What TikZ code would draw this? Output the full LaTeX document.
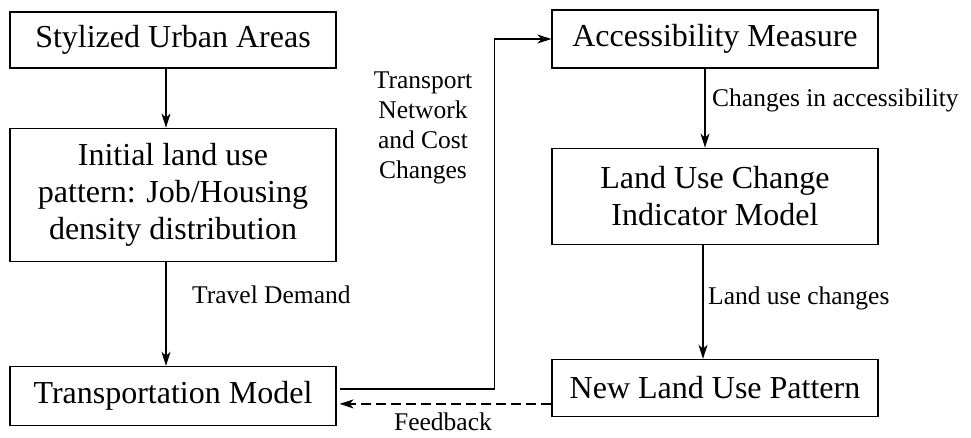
\documentclass[tikz,border=0pt]{standalone}
\usepackage{fontspec}
\newfontfamily\timesfont{Liberation Serif}
\usetikzlibrary{arrows.meta,positioning}
\tikzset{
    every node/.style = {font=\timesfont\fontsize{32}{37}\selectfont},
    block/.style = {draw, line width=1.2pt, minimum width=326pt, align=center, inner sep=0pt},
    lbl/.style = {font=\timesfont\fontsize{25.5}{30}\selectfont, inner sep=0pt},
    flow/.style = {line width=1.5pt, -{Stealth[length=14pt,width=9pt,inset=4pt]}},
    back/.style = {flow, dash pattern=on 10pt off 5pt}
}
\begin{document}
\begin{tikzpicture}[x=1pt, y=-1pt]
        \useasboundingbox (0,0) rectangle (971,437);

        \node[block, minimum height=56pt] (urban) at (173,40) {Stylized Urban Areas};
        \node[block, minimum height=133pt, below=59pt of urban] (init) {Initial land use\\pattern: Job/Housing\\density distribution};
        \node[block, minimum height=59pt, below=104pt of init] (trans) {Transportation Model};

        \node[block, minimum height=58pt] (access) at (715,39) {Accessibility Measure};
        \node[block, minimum height=96pt, below=79pt of access] (change) {Land Use Change\\Indicator Model};
        \node[block, minimum height=57pt, below=114pt of change] (newuse) {New Land Use Pattern};

        \draw[flow] ([xshift=-7pt]urban.south) -- ([xshift=-7pt]init.north);
        \draw[flow] ([xshift=-7pt]init.south) -- ([xshift=-7pt]trans.north);
        \draw[flow] ([xshift=-10pt]access.south) -- ([xshift=-10pt]change.north);
        \draw[flow] ([xshift=-12pt]change.south) -- ([xshift=-12pt]newuse.north);
        \draw[flow] ([xshift=3pt, yshift=7pt]trans.east) -- ++(155,0) |- (access.west);
        \draw[back] ([yshift=-16pt]newuse.west) -- ([yshift=-16pt, xshift=3pt]newuse.west -| trans.east);

        \node[lbl, anchor=west] (demand) at (192,295) {Travel Demand};
        \node[lbl, align=center] (tcost) at (423,128) {Transport\\Network\\and Cost\\Changes};
        \node[lbl, anchor=west] (chacc) at (712,100) {Changes in accessibility};
        \node[lbl, anchor=west] (luchg) at (708,298) {Land use changes};
        \node[lbl] (feed) at (443,422) {Feedback};
    \end{tikzpicture}
\end{document}
